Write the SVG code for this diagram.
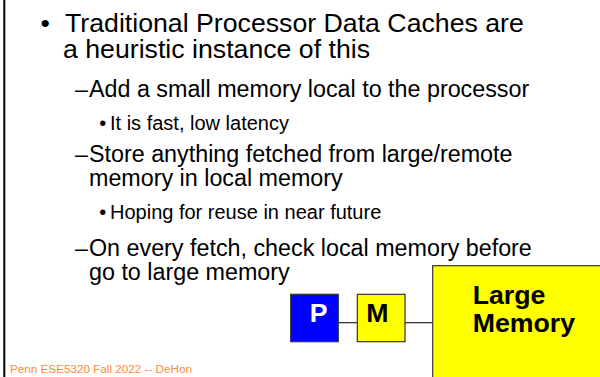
<svg xmlns="http://www.w3.org/2000/svg" width="600" height="377" viewBox="0 0 600 377">
  <style>
    text { font-family: "Liberation Sans", Arial, sans-serif; fill: #000; }
    .l1 { font-size: 26.7px; }
    .l2 { font-size: 23.3px; }
    .l3 { font-size: 20px; }
    .box { stroke: #333; stroke-width: 1.2; }
    .lbl { font-size: 26.7px; font-weight: bold; }
    .wire { stroke: #222; stroke-width: 1.2; fill: none; }
    .foot { font-size: 11.7px; fill: #FF8A3D; }
  </style>
  <rect width="600" height="377" fill="#fff"/>
  <!-- left slide edge -->
  <rect x="3.3" y="0" width="2" height="377" fill="#000"/>

  <!-- bullet text -->
  <g id="bullets">
    <text class="l1" x="40.4" y="31.5">•</text>
    <text class="l1" x="65" y="31.5">Traditional Processor Data Caches are</text>
    <text class="l1" x="63" y="58">a heuristic instance of this</text>

    <text class="l2" x="75" y="96.5">–</text>
    <text class="l2" x="89" y="96.5">Add a small memory local to the processor</text>
    <text class="l3" x="99.2" y="129.5">•</text>
    <text class="l3" x="110" y="129.5">It is fast, low latency</text>

    <text class="l2" x="75" y="162">–</text>
    <text class="l2" x="89" y="162">Store anything fetched from large/remote</text>
    <text class="l2" x="89" y="186">memory in local memory</text>
    <text class="l3" x="99.2" y="218.5">•</text>
    <text class="l3" x="110" y="218.5">Hoping for reuse in near future</text>

    <text class="l2" x="75" y="256">–</text>
    <text class="l2" x="89" y="256">On every fetch, check local memory before</text>
    <text class="l2" x="89" y="280">go to large memory</text>
  </g>

  <!-- connectors -->
  <g id="connectors">
    <line class="wire" x1="338.3" y1="322.7" x2="357.3" y2="322.7"/>
    <line class="wire" x1="405" y1="322.7" x2="432.7" y2="322.7"/>
  </g>

  <g id="processor">
    <rect class="box" x="290.7" y="294.3" width="47.6" height="47.4" fill="#0000FF"/>
    <text class="lbl" x="309.7" y="322.3" style="fill:#fff">P</text>
  </g>
  <g id="local-memory">
    <rect class="box" x="357.3" y="294.3" width="47.7" height="47.4" fill="#FFFF00"/>
    <text class="lbl" x="366.3" y="322.3">M</text>
  </g>
  <g id="large-memory">
    <rect class="box" x="432.7" y="265.7" width="180" height="130" fill="#FFFF00"/>
    <text class="lbl" x="472.7" y="304">Large</text>
    <text class="lbl" x="472.7" y="331.7">Memory</text>
  </g>

  <text class="foot" x="10" y="373">Penn ESE5320 Fall 2022 -- DeHon</text>
</svg>
